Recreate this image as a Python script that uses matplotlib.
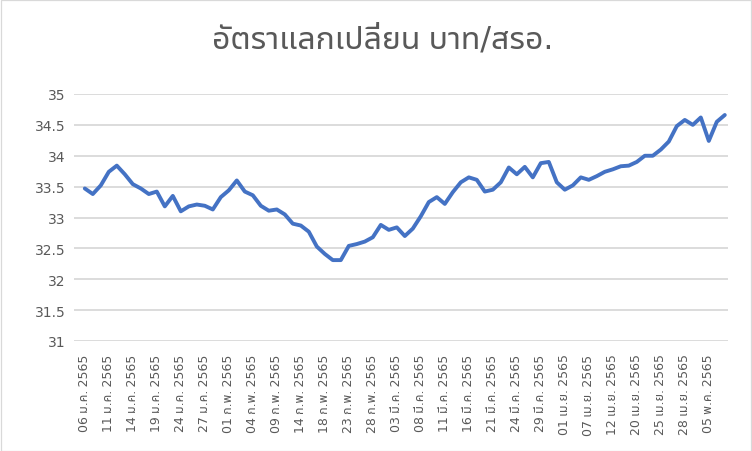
import matplotlib
matplotlib.use("Agg")
import matplotlib.pyplot as plt
from matplotlib import font_manager
from matplotlib.ft2font import FT2Font
from matplotlib.patches import Rectangle

# ---------------- data ----------------
title = "อัตราแลกเปลี่ยน บาท/สรอ."

tick_labels = [
    "06 ม.ค. 2565", "11 ม.ค. 2565", "14 ม.ค. 2565", "19 ม.ค. 2565",
    "24 ม.ค. 2565", "27 ม.ค. 2565", "01 ก.พ. 2565", "04 ก.พ. 2565",
    "09 ก.พ. 2565", "14 ก.พ. 2565", "18 ก.พ. 2565", "23 ก.พ. 2565",
    "28 ก.พ. 2565", "03 มี.ค. 2565", "08 มี.ค. 2565", "11 มี.ค. 2565",
    "16 มี.ค. 2565", "21 มี.ค. 2565", "24 มี.ค. 2565", "29 มี.ค. 2565",
    "01 เม.ย. 2565", "07 เม.ย. 2565", "12 เม.ย. 2565", "20 เม.ย. 2565",
    "25 เม.ย. 2565", "28 เม.ย. 2565", "05 พ.ค. 2565",
]

rates = [
    33.47, 33.38, 33.52, 33.74, 33.84, 33.70, 33.54, 33.47, 33.38, 33.42,
    33.18, 33.35, 33.10, 33.18, 33.21, 33.19, 33.13, 33.33, 33.44, 33.60,
    33.42, 33.36, 33.19, 33.11, 33.13, 33.05, 32.90, 32.87, 32.77, 32.53,
    32.41, 32.31, 32.31, 32.54, 32.57, 32.61, 32.68, 32.88, 32.80, 32.84,
    32.70, 32.82, 33.02, 33.25, 33.33, 33.22, 33.41, 33.57, 33.65, 33.61,
    33.42, 33.45, 33.57, 33.81, 33.70, 33.82, 33.65, 33.88, 33.90, 33.57,
    33.45, 33.52, 33.65, 33.61, 33.67, 33.74, 33.78, 33.83, 33.84, 33.90,
    34.00, 34.00, 34.10, 34.23, 34.48, 34.58, 34.50, 34.62, 34.24, 34.55,
    34.66,
]

y_ticks = [31, 31.5, 32, 32.5, 33, 33.5, 34, 34.5, 35]
label_step = 3

# ---------------- fonts ----------------
def find_thai_font():
    prefs = ["Leelawadee UI", "Leelawadee", "Tahoma", "Noto Sans Thai UI",
             "Noto Sans Thai", "Noto Sans Thai Looped", "Loma", "Garuda",
             "Sarabun", "Waree", "Umpush", "Kinnari", "Norasi", "Laksaman"]
    found = {}
    for f in font_manager.fontManager.ttflist:
        try:
            ft = FT2Font(f.fname)
            if ft.get_char_index(0x0E2D) and ft.get_char_index(0x0E31):
                found.setdefault(f.name, f.fname)
        except Exception:
            pass
    for p in prefs:
        if p in found:
            return p
    if found:
        return sorted(found)[0]
    return None

thai = find_thai_font()
families = ([thai] if thai else []) + ["DejaVu Sans"]
plt.rcParams["font.family"] = families

text_color = "#595959"
grid_color = "#d9d9d9"
line_color = "#4472C4"

fig = plt.figure(figsize=(7.52, 4.52), dpi=100)
fig.patch.set_facecolor("white")
fig.patches.append(Rectangle((0.5 / 752, 0.5 / 452), 1 - 1.5 / 752, 1 - 1.5 / 452,
                             transform=fig.transFigure, fill=False,
                             edgecolor=grid_color, linewidth=0.9))

ax = fig.add_axes([74 / 752, 1 - 342 / 452, (728 - 74) / 752, (342 - 95) / 452])
x = list(range(len(rates)))
ax.plot(x, rates, color=line_color, linewidth=2.8, solid_joinstyle="round",
        solid_capstyle="round", zorder=3)

ax.set_ylim(31, 35)
ax.set_yticks(y_ticks)
ax.set_yticklabels([f"{v:g}" for v in y_ticks])
ax.set_xlim(-1.35, len(rates) - 1 + 0.4)
ax.set_xticks(x[::label_step])
ax.set_xticklabels(tick_labels, rotation=90)

for s in ax.spines.values():
    s.set_visible(False)
ax.grid(axis="y", color=grid_color, linewidth=1.3)
ax.set_axisbelow(True)
ax.tick_params(axis="both", length=0, colors=text_color)
ax.tick_params(axis="y", pad=6, labelsize=10)
ax.tick_params(axis="x", pad=9, labelsize=9)

fig.text(0.5 * (213 + 553) / 752, 1 - 40 / 452, title, ha="center", va="center",
         fontsize=23, color=text_color)

fig.savefig("out.png", dpi=100, facecolor="white")
